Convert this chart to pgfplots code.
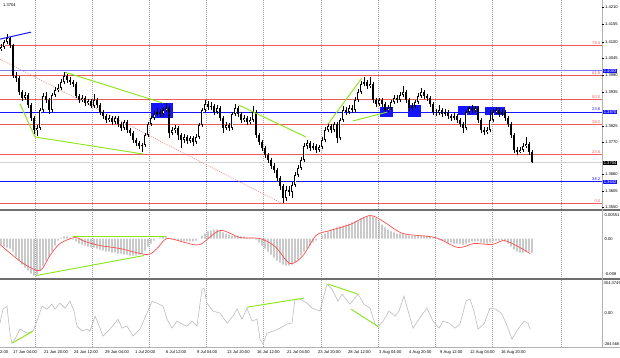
\documentclass[border=0pt]{standalone}
\usepackage{fontspec}
\setmainfont{Liberation Sans}
\usepackage{pgfplots}
\pgfplotsset{compat=1.18}
\usepackage{pgfplotstable}

\definecolor{fibred}{RGB}{240,90,90}
\definecolor{lblue}{RGB}{120,120,255}
\definecolor{mtblue}{RGB}{20,20,255}
\definecolor{lime}{RGB}{135,230,20}
\definecolor{histgray}{RGB}{175,175,175}
\definecolor{ccigray}{RGB}{190,190,190}
\definecolor{sigred}{RGB}{250,80,80}
\definecolor{sepgray}{RGB}{110,110,110}

\newcommand\sm{\fontsize{4.1}{5}\selectfont}

\pgfplotstableread{
x o h l c
1 1.4072 1.4089 1.4066 1.4079
4 1.4079 1.4102 1.4072 1.4095
7 1.4095 1.4122 1.4089 1.4109
10 1.4109 1.4112 1.4076 1.4085
13 1.4085 1.4089 1.3977 1.3983
16 1.3983 1.3996 1.3963 1.3977
19 1.3977 1.3983 1.3920 1.3930
22 1.3930 1.3937 1.3901 1.3911
25 1.3911 1.3930 1.3904 1.3920
28 1.3920 1.3927 1.3878 1.3887
31 1.3887 1.3894 1.3835 1.3845
34 1.3845 1.3851 1.3792 1.3805
37 1.3805 1.3821 1.3785 1.3812
40 1.3812 1.3878 1.3805 1.3871
43 1.3871 1.3927 1.3864 1.3917
46 1.3917 1.3930 1.3894 1.3904
49 1.3904 1.3911 1.3858 1.3871
52 1.3871 1.3927 1.3864 1.3920
55 1.3920 1.3947 1.3914 1.3937
58 1.3937 1.3957 1.3930 1.3944
61 1.3944 1.3973 1.3937 1.3963
64 1.3963 1.3996 1.3957 1.3983
67 1.3983 1.3990 1.3960 1.3970
70 1.3970 1.3980 1.3953 1.3963
73 1.3963 1.3970 1.3947 1.3957
76 1.3957 1.3963 1.3911 1.3917
79 1.3917 1.3924 1.3894 1.3904
82 1.3904 1.3920 1.3897 1.3911
85 1.3911 1.3917 1.3884 1.3894
88 1.3894 1.3907 1.3887 1.3901
91 1.3901 1.3907 1.3878 1.3884
94 1.3884 1.3924 1.3878 1.3904
97 1.3904 1.3911 1.3878 1.3887
100 1.3887 1.3894 1.3854 1.3864
103 1.3864 1.3871 1.3841 1.3851
106 1.3851 1.3858 1.3828 1.3838
109 1.3838 1.3854 1.3831 1.3845
112 1.3845 1.3851 1.3821 1.3831
115 1.3831 1.3851 1.3825 1.3845
118 1.3845 1.3851 1.3815 1.3825
121 1.3825 1.3831 1.3802 1.3812
124 1.3812 1.3838 1.3805 1.3831
127 1.3831 1.3838 1.3795 1.3805
130 1.3805 1.3812 1.3785 1.3795
133 1.3795 1.3802 1.3762 1.3772
136 1.3772 1.3779 1.3752 1.3762
139 1.3762 1.3769 1.3742 1.3752
142 1.3752 1.3762 1.3732 1.3755
145 1.3755 1.3795 1.3749 1.3788
148 1.3788 1.3831 1.3782 1.3825
151 1.3825 1.3851 1.3818 1.3845
154 1.3845 1.3868 1.3838 1.3858
157 1.3858 1.3878 1.3851 1.3864
160 1.3864 1.3874 1.3848 1.3858
163 1.3858 1.3881 1.3851 1.3871
166 1.3871 1.3894 1.3864 1.3878
169 1.3878 1.3884 1.3779 1.3795
172 1.3795 1.3815 1.3788 1.3805
175 1.3805 1.3821 1.3795 1.3812
178 1.3812 1.3818 1.3772 1.3788
181 1.3788 1.3795 1.3746 1.3772
184 1.3772 1.3792 1.3762 1.3782
187 1.3782 1.3788 1.3759 1.3769
190 1.3769 1.3785 1.3762 1.3779
193 1.3779 1.3785 1.3752 1.3765
196 1.3765 1.3792 1.3759 1.3782
199 1.3782 1.3828 1.3775 1.3821
202 1.3821 1.3878 1.3815 1.3871
205 1.3871 1.3904 1.3864 1.3891
208 1.3891 1.3901 1.3871 1.3881
211 1.3881 1.3897 1.3871 1.3884
214 1.3884 1.3891 1.3854 1.3864
217 1.3864 1.3887 1.3858 1.3878
220 1.3878 1.3884 1.3835 1.3845
223 1.3845 1.3851 1.3795 1.3812
226 1.3812 1.3831 1.3805 1.3821
229 1.3821 1.3828 1.3802 1.3812
232 1.3812 1.3864 1.3805 1.3858
235 1.3858 1.3891 1.3851 1.3878
238 1.3878 1.3884 1.3848 1.3858
241 1.3858 1.3864 1.3828 1.3838
244 1.3838 1.3854 1.3831 1.3845
247 1.3845 1.3851 1.3821 1.3831
250 1.3831 1.3848 1.3825 1.3838
253 1.3838 1.3884 1.3831 1.3864
256 1.3864 1.3871 1.3779 1.3788
259 1.3788 1.3795 1.3755 1.3765
262 1.3765 1.3772 1.3736 1.3746
265 1.3746 1.3752 1.3713 1.3722
268 1.3722 1.3729 1.3696 1.3706
271 1.3706 1.3713 1.3676 1.3686
274 1.3686 1.3696 1.3663 1.3673
277 1.3673 1.3680 1.3637 1.3647
280 1.3647 1.3653 1.3607 1.3620
283 1.3620 1.3627 1.3564 1.3581
286 1.3581 1.3620 1.3571 1.3607
289 1.3607 1.3620 1.3587 1.3600
292 1.3600 1.3633 1.3581 1.3623
295 1.3623 1.3666 1.3617 1.3656
298 1.3656 1.3689 1.3650 1.3680
301 1.3680 1.3716 1.3673 1.3706
304 1.3706 1.3762 1.3699 1.3752
307 1.3752 1.3772 1.3742 1.3762
310 1.3762 1.3769 1.3736 1.3746
313 1.3746 1.3762 1.3739 1.3752
316 1.3752 1.3759 1.3729 1.3739
319 1.3739 1.3755 1.3732 1.3749
322 1.3749 1.3782 1.3742 1.3772
325 1.3772 1.3815 1.3765 1.3805
328 1.3805 1.3828 1.3798 1.3818
331 1.3818 1.3825 1.3795 1.3805
334 1.3805 1.3831 1.3798 1.3825
337 1.3825 1.3831 1.3762 1.3779
340 1.3779 1.3845 1.3772 1.3838
343 1.3838 1.3884 1.3831 1.3871
346 1.3871 1.3881 1.3854 1.3864
349 1.3864 1.3887 1.3858 1.3878
352 1.3878 1.3887 1.3861 1.3871
355 1.3871 1.3914 1.3864 1.3904
358 1.3904 1.3940 1.3897 1.3930
361 1.3930 1.3967 1.3924 1.3957
364 1.3957 1.3980 1.3950 1.3963
367 1.3963 1.3970 1.3940 1.3950
370 1.3950 1.3980 1.3944 1.3957
373 1.3957 1.3963 1.3894 1.3904
376 1.3904 1.3911 1.3881 1.3891
379 1.3891 1.3911 1.3884 1.3904
382 1.3904 1.3911 1.3881 1.3891
385 1.3891 1.3897 1.3861 1.3871
388 1.3871 1.3887 1.3864 1.3878
391 1.3878 1.3904 1.3871 1.3897
394 1.3897 1.3920 1.3891 1.3911
397 1.3911 1.3920 1.3894 1.3904
400 1.3904 1.3930 1.3897 1.3920
403 1.3920 1.3950 1.3914 1.3930
406 1.3930 1.3937 1.3894 1.3904
409 1.3904 1.3911 1.3868 1.3878
412 1.3878 1.3894 1.3871 1.3884
415 1.3884 1.3904 1.3878 1.3897
418 1.3897 1.3927 1.3891 1.3917
421 1.3917 1.3944 1.3911 1.3930
424 1.3930 1.3937 1.3907 1.3917
427 1.3917 1.3924 1.3901 1.3911
430 1.3911 1.3917 1.3881 1.3891
433 1.3891 1.3897 1.3854 1.3864
436 1.3864 1.3874 1.3851 1.3861
439 1.3861 1.3887 1.3854 1.3871
442 1.3871 1.3878 1.3848 1.3858
445 1.3858 1.3874 1.3851 1.3864
448 1.3864 1.3871 1.3841 1.3851
451 1.3851 1.3858 1.3835 1.3845
454 1.3845 1.3861 1.3838 1.3851
457 1.3851 1.3858 1.3828 1.3838
460 1.3838 1.3845 1.3815 1.3825
463 1.3825 1.3831 1.3795 1.3812
466 1.3812 1.3871 1.3805 1.3864
469 1.3864 1.3884 1.3858 1.3878
472 1.3878 1.3887 1.3861 1.3871
475 1.3871 1.3884 1.3864 1.3878
478 1.3878 1.3884 1.3828 1.3838
481 1.3838 1.3845 1.3795 1.3805
484 1.3805 1.3815 1.3788 1.3798
487 1.3798 1.3815 1.3792 1.3805
490 1.3805 1.3871 1.3798 1.3838
493 1.3838 1.3874 1.3831 1.3864
496 1.3864 1.3881 1.3858 1.3871
499 1.3871 1.3878 1.3848 1.3858
502 1.3858 1.3874 1.3851 1.3864
505 1.3864 1.3871 1.3835 1.3845
508 1.3845 1.3851 1.3815 1.3825
511 1.3825 1.3831 1.3779 1.3788
514 1.3788 1.3795 1.3729 1.3739
517 1.3739 1.3749 1.3722 1.3732
520 1.3732 1.3749 1.3729 1.3739
523 1.3739 1.3762 1.3732 1.3752
526 1.3752 1.3782 1.3746 1.3759
529 1.3759 1.3765 1.3722 1.3732
532 1.3732 1.3739 1.3695 1.3699
}\candles

\pgfplotstableread{
x v
1 -0.00125
4 -0.00166
7 -0.00187
10 -0.00208
13 -0.0027
16 -0.00374
19 -0.00458
22 -0.00541
25 -0.00603
28 -0.00666
31 -0.00728
34 -0.0077
37 -0.00749
40 -0.00666
43 -0.00562
46 -0.00458
49 -0.00374
52 -0.0027
55 -0.00146
58 -0.00042
61 0.00021
64 0.00042
67 0.00042
70 0.00021
73 -0.00021
76 -0.00062
79 -0.00104
82 -0.00125
85 -0.00146
88 -0.00166
91 -0.00187
94 -0.00187
97 -0.00208
100 -0.00229
103 -0.0025
106 -0.0027
109 -0.0027
112 -0.00291
115 -0.00291
118 -0.00312
121 -0.00312
124 -0.00333
127 -0.00333
130 -0.00354
133 -0.00354
136 -0.00354
139 -0.00333
142 -0.00312
145 -0.0025
148 -0.00166
151 -0.00104
154 -0.00042
157 0
160 0.00021
163 0.00042
166 0.00042
169 0
172 -0.00021
175 -0.00021
178 -0.00042
181 -0.00062
184 -0.00062
187 -0.00062
190 -0.00062
193 -0.00062
196 -0.00042
199 0
202 0.00062
205 0.00104
208 0.00146
211 0.00166
214 0.00187
217 0.00187
220 0.00166
223 0.00125
226 0.00104
229 0.00083
232 0.00062
235 0.00062
238 0.00062
241 0.00042
244 0.00042
247 0.00021
250 0.00021
253 0.00021
256 -0.00021
259 -0.00083
262 -0.00146
265 -0.00208
268 -0.0027
271 -0.00333
274 -0.00395
277 -0.00458
280 -0.00499
283 -0.00541
286 -0.00562
289 -0.00562
292 -0.00541
295 -0.00499
298 -0.00437
301 -0.00354
304 -0.0027
307 -0.00208
310 -0.00146
313 -0.00083
316 -0.00042
319 0
322 0.00062
325 0.00104
328 0.00146
331 0.00187
334 0.00208
337 0.00229
340 0.0025
343 0.0027
346 0.00291
349 0.00312
352 0.00333
355 0.00354
358 0.00374
361 0.00416
364 0.00437
367 0.00458
370 0.00478
373 0.00458
376 0.00416
379 0.00354
382 0.00291
385 0.00229
388 0.00187
391 0.00146
394 0.00125
397 0.00104
400 0.00104
403 0.00104
406 0.00083
409 0.00062
412 0.00062
415 0.00062
418 0.00062
421 0.00062
424 0.00062
427 0.00062
430 0.00042
433 0.00021
436 0
439 -0.00021
442 -0.00042
445 -0.00062
448 -0.00083
451 -0.00083
454 -0.00104
457 -0.00104
460 -0.00104
463 -0.00125
466 -0.00104
469 -0.00083
472 -0.00062
475 -0.00062
478 -0.00062
481 -0.00083
484 -0.00104
487 -0.00104
490 -0.00083
493 -0.00062
496 -0.00042
499 -0.00042
502 -0.00042
505 -0.00062
508 -0.00104
511 -0.00166
514 -0.00229
517 -0.0027
520 -0.00291
523 -0.00291
526 -0.0027
529 -0.0027
532 -0.00291
}\macdhist

\pgfplotstableread{
x v
0 -0.00125
13 -0.00354
25 -0.00541
40 -0.00666
50 -0.00354
60 -0.00104
75 0.00021
85 -0.00062
100 -0.00146
120 -0.00208
147 -0.00333
157 -0.00208
167 0
185 -0.00083
200 -0.00125
220 0.00166
240 0.00021
260 0
275 -0.00166
290 -0.0052
303 -0.00354
316 0.00062
330 0.00166
350 0.00291
370 0.00478
385 0.00333
403 0.00104
435 0.00021
458 -0.00187
474 -0.00104
492 -0.00125
504 -0.00042
518 -0.00166
530 -0.00312
}\macdsig

\pgfplotstableread{
x v
0 -71
3 54
7 80
8 -9
10 -161
12 -250
15 -214
20 -125
27 -161
33 -143
37 -54
42 80
47 54
52 98
55 54
60 107
65 62
70 125
74 36
77 -98
82 -143
87 -125
90 -143
95 -9
98 -71
103 -187
110 -125
115 -71
118 -36
122 -116
127 -98
133 -187
140 -125
147 18
152 125
157 107
163 80
167 -36
172 -116
177 -54
182 -80
187 -98
192 -54
197 -98
202 232
204 241
207 107
213 36
220 18
227 -71
233 -9
237 54
242 -36
247 62
252 -54
257 -36
260 -214
263 -259
267 -161
273 -143
280 -116
287 -80
292 -71
295 143
300 143
307 107
312 62
320 36
327 277
332 232
338 125
342 187
350 98
358 187
364 98
370 62
375 -80
378 -107
383 -54
389 36
395 -9
399 36
404 169
409 9
413 -116
421 -9
427 62
433 -54
439 -116
443 -54
449 -71
455 -116
460 -80
466 125
470 143
474 36
478 -125
484 -80
490 62
496 54
502 9
508 -116
512 -214
518 -125
524 -54
528 -71
530 -125
}\cci

\begin{document}
\begin{tikzpicture}[x=1pt,y=1pt]
\path[use as bounding box] (0,0) rectangle (620,357);
\fill[white] (0,0) rectangle (620,357);
% vertical dotted grid
\foreach \gx in {35,92,149,206,263,321,378,435,492,561}
  \draw[gray!75, line width=0.4pt, dash pattern=on 1pt off 1pt] (\gx,10) -- (\gx,357);

% ---------------- price panel ----------------
\begin{axis}[at={(0pt,148pt)}, anchor=south west, scale only axis,
  width=602pt, height=209pt, xmin=0, xmax=602,
  ymin=1.35444, ymax=1.42341, hide axis, clip=true]
  % fib lines
  \addplot[fibred, line width=0.6pt] coordinates {(0,1.4085) (602,1.4085)};
  \addplot[fibred, line width=0.6pt] coordinates {(0,1.3986) (602,1.3986)};
  \addplot[fibred, line width=0.6pt] coordinates {(0,1.3907) (602,1.3907)};
  \addplot[fibred, line width=0.6pt] coordinates {(0,1.3825) (602,1.3825)};
  \addplot[fibred, line width=0.6pt] coordinates {(0,1.3726) (602,1.3726)};
  \addplot[fibred, line width=0.6pt] coordinates {(0,1.3564) (602,1.3564)};
  % blue levels
  \addplot[lblue, line width=1pt] coordinates {(0,1.4000) (602,1.4000)};
  \addplot[mtblue, line width=1pt] coordinates {(0,1.3864) (602,1.3864)};
  \addplot[mtblue, line width=1pt] coordinates {(0,1.3634) (602,1.3634)};
  % current price
  \addplot[gray!35, line width=1pt] coordinates {(0,1.3699) (602,1.3699)};
  % dotted channel line
  \addplot[fibred!85, line width=0.5pt, dash pattern=on 1pt off 1pt] coordinates {(0,1.4039) (283,1.3561)};
  % blue boxes
  \addplot[fill=mtblue, draw=none] coordinates {(151,1.3894) (173,1.3894) (173,1.3845) (151,1.3845)};
  \addplot[fill=mtblue, draw=none] coordinates {(380,1.3881) (393,1.3881) (393,1.3848) (380,1.3848)};
  \addplot[fill=mtblue, draw=none] coordinates {(408,1.3887) (421,1.3887) (421,1.3848) (408,1.3848)};
  \addplot[fill=mtblue, draw=none] coordinates {(458,1.3884) (478,1.3884) (478,1.3854) (458,1.3854)};
  \addplot[fill=mtblue, draw=none] coordinates {(485,1.3881) (505,1.3881) (505,1.3854) (485,1.3854)};
  % candles: wicks, bodies, hollow bull bodies
  \addplot[black, line width=0.5pt, line cap=butt, quiver={u=0, v=\thisrow{h}-\thisrow{l}}]
    table[x=x, y=l] {\candles};
  \addplot[black, line width=1.5pt, line cap=butt, quiver={u=0, v={max(abs(\thisrow{c}-\thisrow{o}),0.00015)}}]
    table[x=x, y expr={min(\thisrow{o},\thisrow{c})}] {\candles};
  \addplot[white, line width=0.5pt, line cap=butt, quiver={u=0, v={max(\thisrow{c}-\thisrow{o}-0.0006,0)}}]
    table[x=x, y expr={\thisrow{o}+0.0003}] {\candles};
  % trend lines
  \addplot[mtblue, line width=1pt] coordinates {(0,1.4105) (31,1.4128)};
  \addplot[lime, line width=0.9pt] coordinates {(65,1.3996) (163,1.3894)};
  \addplot[lime, line width=0.9pt] coordinates {(20,1.3891) (35,1.3782) (143,1.3726)};
  \addplot[lime, line width=0.9pt] coordinates {(239,1.3887) (306,1.3782)};
  \addplot[lime, line width=0.9pt] coordinates {(328,1.3825) (362,1.3977)};
  \addplot[lime, line width=0.9pt] coordinates {(353,1.3835) (387,1.3864)};
\end{axis}

% ---------------- MACD panel ----------------
\begin{axis}[at={(0pt,80pt)}, anchor=south west, scale only axis,
  width=602pt, height=65pt, xmin=0, xmax=602,
  ymin=-0.008, ymax=0.00551, hide axis, clip=true]
  \addplot[ybar, bar width=1.3pt, fill=histgray, draw=none] table[x=x, y=v] {\macdhist};
  \addplot[sigred, line width=0.7pt, smooth] table[x=x, y=v] {\macdsig};
  \addplot[lime, line width=0.9pt] coordinates {(73,0.0005) (166,0.0005)};
  \addplot[lime, line width=0.9pt] coordinates {(36,-0.0077) (144,-0.00354)};
\end{axis}

% ---------------- CCI panel ----------------
\begin{axis}[at={(0pt,10pt)}, anchor=south west, scale only axis,
  width=602pt, height=66pt, xmin=0, xmax=602,
  ymin=-284.568, ymax=304.3745, hide axis, clip=true]
  \addplot[ccigray, line width=0.6pt] table[x=x, y=v] {\cci};
  \addplot[lime, line width=0.9pt] coordinates {(12,-250) (33,-143)};
  \addplot[lime, line width=0.9pt] coordinates {(247,71) (304,152)};
  \addplot[lime, line width=0.9pt] coordinates {(328,277) (358,187)};
  \addplot[lime, line width=0.9pt] coordinates {(351,54) (379,-107)};
\end{axis}

% separators and frame
\draw[sepgray, line width=1.8pt] (0,147) -- (620,147);
\draw[sepgray, line width=1.8pt] (0,78.3) -- (620,78.3);
\draw[gray!60, line width=0.5pt] (0,10) -- (620,10);
\draw[gray!60, line width=0.5pt] (602,10) -- (602,357);

% right price scale
\foreach \yy/\lab in {349.7/1.4210, 332.7/1.4155, 315.3/1.4100, 298.7/1.4045, 282/1.3990, 265.3/1.3935, 231.3/1.3825, 214.7/1.3770, 182.7/1.3660, 166/1.3605, 149.5/1.3550}{
  \draw[black, line width=0.3pt] (602,\yy) -- (604,\yy);
  \node[anchor=west, inner sep=0pt, font=\sm] at (605,\yy) {\lab};
}
\node[anchor=west, fill=mtblue, text=white, inner xsep=0.6pt, inner ysep=0.8pt, font=\sm] at (603,286) {1.4003};
\node[anchor=west, fill=mtblue, text=white, inner xsep=0.6pt, inner ysep=0.8pt, font=\sm] at (603,245) {1.3870};
\node[anchor=west, fill=black, text=white, inner xsep=0.6pt, inner ysep=0.8pt, font=\sm] at (603,194) {1.3704};
\node[anchor=west, fill=mtblue, text=white, inner xsep=0.6pt, inner ysep=0.8pt, font=\sm] at (603,175) {1.3642};

% fib level captions
\node[anchor=south east, inner sep=0.6pt, font=\sm, text=fibred] at (601,312) {76.4};
\node[anchor=south east, inner sep=0.6pt, font=\sm, text=fibred] at (601,282) {61.8};
\node[anchor=south east, inner sep=0.6pt, font=\sm, text=fibred] at (601,258) {50.0};
\node[anchor=south east, inner sep=0.6pt, font=\sm, text=mtblue] at (601,245.5) {23.6};
\node[anchor=south east, inner sep=0.6pt, font=\sm, text=fibred] at (601,233) {38.2};
\node[anchor=south east, inner sep=0.6pt, font=\sm, text=fibred] at (601,203) {23.6};
\node[anchor=south east, inner sep=0.6pt, font=\sm, text=mtblue] at (601,175.5) {38.2};
\node[anchor=south east, inner sep=0.6pt, font=\sm, text=fibred] at (601,154) {0.0};

% indicator scales
\node[anchor=west, inner sep=0pt, font=\sm] at (604.5,142) {0.00551};
\node[anchor=west, inner sep=0pt, font=\sm] at (604.5,118) {0.00};
\node[anchor=west, inner sep=0pt, font=\sm] at (604.5,83) {-0.008};
\node[anchor=west, inner sep=0pt, font=\sm] at (603.5,74) {304.3745};
\node[anchor=west, inner sep=0pt, font=\sm] at (604.5,44) {0.00};
\node[anchor=west, inner sep=0pt, font=\fontsize{3.9}{5}\selectfont] at (603.5,13) {-284.568};

% top-left caption
\node[anchor=west, inner sep=0pt, font=\sm] at (3,352) {1.3704};

% time labels
\foreach \tx/\tl in {0/{2:00}, 13/{17 Jun 04:00}, 44/{21 Jun 20:00}, 74/{24 Jun 12:00}, 105/{29 Jun 04:00}, 135/{1 Jul 20:00}, 166/{6 Jul 12:00}, 197/{9 Jul 04:00}, 227/{13 Jul 20:00}, 257/{16 Jul 12:00}, 287/{21 Jul 04:00}, 318/{23 Jul 20:00}, 348/{28 Jul 12:00}, 379/{3 Aug 04:00}, 409/{4 Aug 20:00}, 440/{9 Aug 12:00}, 470/{12 Aug 04:00}, 501/{16 Aug 20:00}}
  \node[anchor=west, inner sep=0pt, font=\sm] at (\tx,4.5) {\tl};
\end{tikzpicture}
\end{document}
